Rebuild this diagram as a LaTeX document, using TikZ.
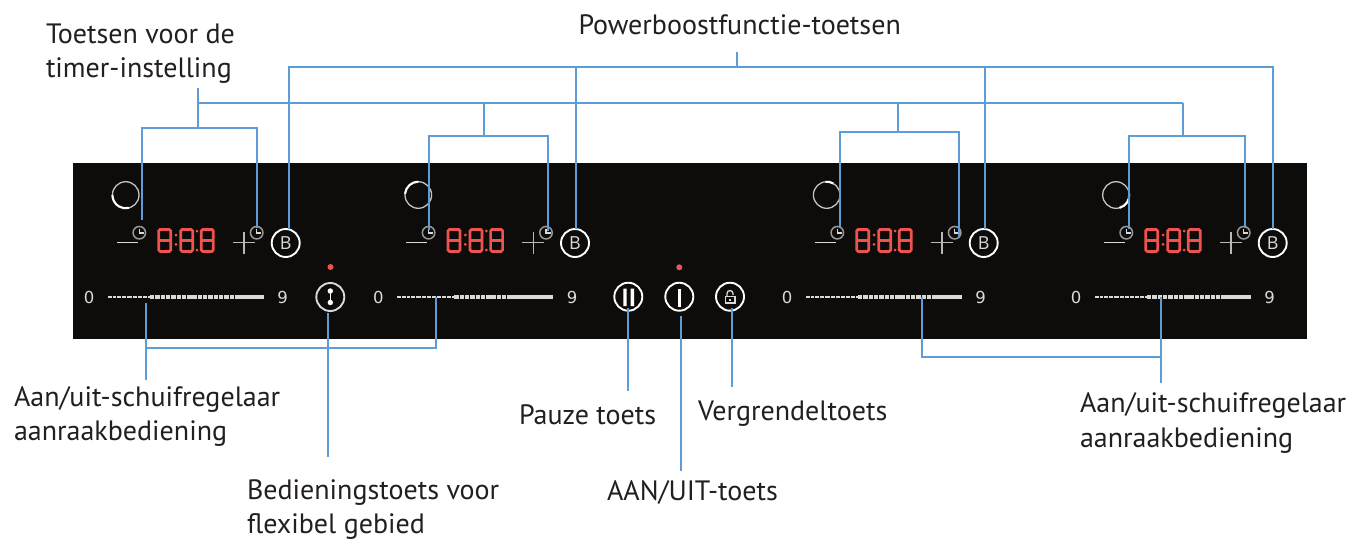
\documentclass[tikz,border=0pt]{standalone}
\usepackage{fontspec}
\setmainfont{PT Sans}
\newfontfamily\panelfont{Open Sans}
\newfontfamily\numfont{DejaVu Sans}
\definecolor{leader}{HTML}{5E9CD8}
\definecolor{panel}{HTML}{0D0C0A}
\definecolor{ledred}{HTML}{EE5350}
\definecolor{icon}{HTML}{D9D9D6}
\definecolor{labtext}{HTML}{231F20}
\tikzset{
  x=1pt,y=-1pt,
  lab/.style={anchor=north west,inner sep=0pt,outer sep=0pt,align=left,font=\fontsize{28}{34}\selectfont,text=labtext},
  conn/.style={draw=leader,line width=1.7pt},
  btn/.style={circle,draw=white,line width=1.9pt,minimum size=28pt,inner sep=0pt,text=icon,font=\panelfont\fontsize{18}{18}\selectfont},
  clk/.style={circle,draw=icon!70!black,line width=1.5pt,minimum size=12.5pt,inner sep=0pt},
  ringb/.style={circle,draw=icon!90!black,line width=1.3pt,minimum size=26.6pt,inner sep=0pt},
  num/.style={inner sep=0pt,text=icon,font=\numfont\fontsize{16.5}{16.5}\selectfont},
  seg/.style={draw=ledred,line width=2.7pt},
  dotr/.style={circle,fill=ledred,inner sep=0pt,minimum size=6pt},
}
\newcommand{\digit}[1]{%
  \begin{scope}[shift={(#1,0)}]
    \draw[seg,rounded corners=1.5pt] (0,229.4) rectangle (12,251.4);
    \draw[seg] (0,240.4) -- (12,240.4);
  \end{scope}}
\newcommand{\zone}[7]{% suffix, dx, ring x, arc start, arc delta, thick dashes start, solid start
  \begin{scope}[shift={(#2,0)}]
    \draw[icon,line width=1.2pt] (117,242.7) -- (137.7,242.7);
    \node[clk] (cl#1) at (139.3,232.7) {};
    \draw[icon,line width=1.1pt] (139.3,228.5) -- (139.3,233) -- (143.8,233);
    \digit{158.7}\digit{180.7}\digit{201.3}
    \fill[ledred] (176,235) circle (1.5pt) (176,244.3) circle (1.5pt);
    \fill[ledred] (197,231) circle (1.5pt) (197,250) circle (1.5pt);
    \draw[icon!85!black,line width=1.2pt] (233,242.7) -- (255,242.7) (244,232) -- (244,254);
    \node[clk] (cr#1) at (256.7,232.7) {};
    \draw[icon,line width=1.1pt] (256.7,228.5) -- (256.7,233) -- (261.2,233);
    \node[btn] (b#1) at (285.7,243) {B};
    \node[num] (z#1) at (89,297) {0};
    \node[num] (n#1) at (282.7,297) {9};
    \draw[icon,line width=1.4pt,dash pattern=on 3.6pt off 1.1pt] (108,297) -- (128,297);
    \draw[icon,line width=2pt,dash pattern=on 4pt off 1pt] (128,297) -- (#6,297);
    \draw[icon,line width=3.2pt,dash pattern=on 4.4pt off 0.9pt] (#6,297) -- (#7,297);
    \draw[icon,line width=3.4pt] (#7,297) -- (264,297);
  \end{scope}
  \node[ringb] (r#1) at (#3,195) {};
  \draw[white,line width=2.1pt] ([shift={(#4:13.3pt)}]r#1.center) arc[start angle=#4,delta angle=#5,radius=13.3pt];
}
\begin{document}
\begin{tikzpicture}
\useasboundingbox (0,0) rectangle (1348,539);
\fill[white] (0,0) rectangle (1348,539);
\fill[panel] (73,163) rectangle (1307,339);
\zone{A}{0}{125.7}{180}{105}{150}{237}
\zone{B}{289.3}{418.3}{90}{85}{165}{219}
\zone{C}{698}{826.7}{60}{35}{160}{235}
\zone{D}{987}{1116}{-75}{80}{160}{236}
% centre buttons
\node[btn,draw=icon] (flex) at (330.3,297) {};
\draw[white,line width=1.2pt] (330.3,291) -- (330.3,302.3);
\fill[white] (330.3,291) circle (2.7pt) (330.3,302.5) circle (2.7pt);
\node[dotr] (dotflex) at (330.5,267) {};
\node[btn] (pause) at (628.3,296.7) {};
\fill[white] (623.3,288.5) rectangle (626.7,306) (630.7,288.5) rectangle (634,306);
\node[btn] (power) at (679.3,296.7) {};
\fill[white] (678,288.5) rectangle (680.7,306.5);
\node[dotr] (dotpower) at (679.3,267.3) {};
\node[btn] (lock) at (730,296.7) {};
\draw[icon,line width=1.3pt] (725.5,296.5) rectangle (735,303);
\draw[icon,line width=1.3pt] (727,296.5) -- (727,293.5) arc[start angle=180,end angle=0,radius=3pt] -- (733,295);
\fill[icon] (729.2,298.5) rectangle (731.2,301);
% labels
\node[lab] (ltimer) at (46,24) {Toetsen voor de\\timer-instelling};
\node[lab] (lboost) at (578.5,15) {Powerboostfunctie-toetsen};
\node[lab] (lsl) at (14,387) {Aan/uit-schuifregelaar\\aanraakbediening};
\node[lab] (lpause) at (519,405) {Pauze toets};
\node[lab] (llock) at (698,401) {Vergrendeltoets};
\node[lab] (lflex) at (247,479.5) {Bedieningstoets voor\\flexibel gebied};
\node[lab] (lpower) at (607,480.5) {AAN/UIT-toets};
\node[lab] (lsr) at (1080,393) {Aan/uit-schuifregelaar\\[1pt]aanraakbediening};
% powerboost leaders
\coordinate (pbT) at (737,52);
\coordinate (pbM) at (737,67);
\coordinate (pbA) at (289,228.5);
\coordinate (pbB) at (576,228.5);
\coordinate (pbC) at (985,228.5);
\coordinate (pbD) at (1273,228.5);
\draw[conn] (pbT) -- (pbM);
\draw[conn] (pbA) -- (pbA |- pbM) -- (pbD |- pbM) -- (pbD);
\draw[conn] (pbB) -- (pbB |- pbM);
\draw[conn] (pbC) -- (pbC |- pbM);
% timer leaders
\coordinate (tmT) at (198,88);
\coordinate (tmL) at (198,103);
\coordinate (tmR) at (1183,103);
\draw[conn] (tmL) -- (tmR);
\draw[conn] (tmT) -- (tmL);
\foreach \z/\bx/\by/\lx/\rx/\ly/\ry in {A/198/128/142/257/219.5/228,B/484/136/429/548/230/230.5,C/898/132/840/959/228/236.5,D/1183/136/1129/1245/229/228}{
  \coordinate (t\z) at (\bx,103);
  \coordinate (u\z) at (\bx,\by);
  \coordinate (v\z) at (\lx,\by);
  \coordinate (w\z) at (\rx,\by);
  \coordinate (x\z) at (\lx,\ly);
  \coordinate (y\z) at (\rx,\ry);
  \draw[conn] (t\z) -- (u\z);
  \draw[conn] (x\z) -- (v\z) -- (w\z) -- (y\z);
}
% slider leaders
\coordinate (slA) at (146,303);
\coordinate (slB) at (436,297);
\coordinate (slJ) at (146,380);
\coordinate (slM) at (146,348);
\draw[conn] (slA) -- (slJ);
\draw[conn] (slB) -- (slB |- slM) -- (slM);
\coordinate (srA) at (922,297);
\coordinate (srB) at (1161,297);
\coordinate (srJ) at (1161,383);
\coordinate (srM) at (1161,357);
\draw[conn] (srB) -- (srJ);
\draw[conn] (srA) -- (srA |- srM) -- (srM);
% button leaders
\coordinate (fS) at (328,313);
\coordinate (fE) at (328,457);
\coordinate (pS) at (628,308);
\coordinate (pE) at (628,391);
\coordinate (oS) at (681,315.5);
\coordinate (oE) at (681,471);
\coordinate (kS) at (732,308);
\coordinate (kE) at (732,387);
\draw[conn] (fS) -- (fE);
\draw[conn] (pS) -- (pE);
\draw[conn] (oS) -- (oE);
\draw[conn] (kS) -- (kE);
\end{tikzpicture}
\end{document}
